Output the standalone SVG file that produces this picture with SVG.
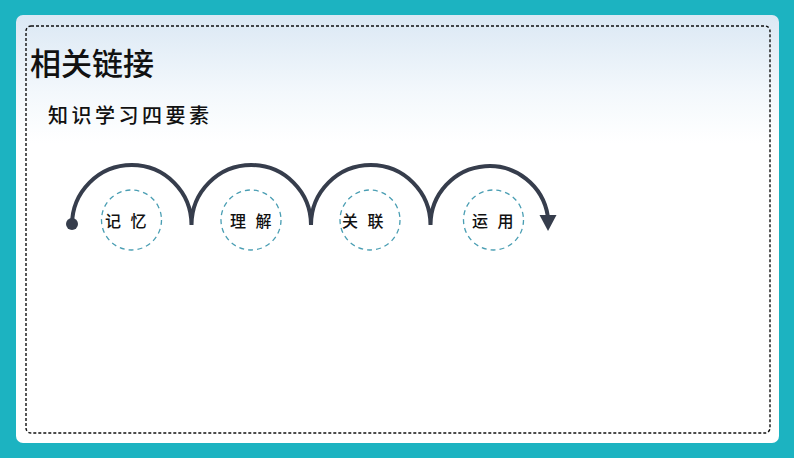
<svg xmlns="http://www.w3.org/2000/svg" width="794" height="458" viewBox="0 0 794 458">
  <defs>
    <linearGradient id="sky" x1="0" y1="0" x2="0" y2="1">
      <stop offset="0" stop-color="#dbe8f4"/>
      <stop offset="0.18" stop-color="#f3f8fc"/>
      <stop offset="0.3" stop-color="#ffffff"/>
      <stop offset="1" stop-color="#ffffff"/>
    </linearGradient>
    <style>
      .arc { fill: none; stroke: #363d4c; stroke-width: 4; stroke-linecap: round; }
      .ring { fill: none; stroke: #4a9eb3; stroke-width: 1.3; stroke-dasharray: 5 4; }
      .lbl { font-family: "Noto Sans CJK SC", "Noto Sans", sans-serif; font-size: 16px; font-weight: 500; fill: #111; letter-spacing: 3px; }
      .title { font-family: "Noto Sans CJK SC", "Noto Sans", sans-serif; font-size: 31px; font-weight: 500; fill: #111; }
      .sub { font-family: "Noto Sans CJK SC", "Noto Sans", sans-serif; font-size: 20px; font-weight: 500; fill: #111; letter-spacing: 3.5px; }
    </style>
  </defs>
  <rect x="0" y="0" width="794" height="458" fill="#1cb3c1"/>
  <rect x="16" y="15" width="763" height="428" rx="7" fill="url(#sky)"/>
  <rect x="26" y="26" width="744" height="407" rx="5" fill="none" stroke="#111" stroke-width="1.4" stroke-dasharray="3 2"/>
  <text class="title" x="30" y="75">相关链接</text>
  <text class="sub" x="48" y="123">知识学习四要素</text>
  <g id="connectors">
    <path class="arc" d="M72,225 A59.75,60 0 0 1 191.5,225 A59.75,60 0 0 1 311,225 A59.75,60 0 0 1 430.5,225 A59,59 0 0 1 547.8,216"/>
    <polygon points="539.5,215 556.5,215 548,231" fill="#363d4c"/>
    <circle cx="72" cy="224" r="6" fill="#363d4c"/>
  </g>
  <g id="node-memory">
    <circle class="ring" cx="131.5" cy="220" r="30"/>
    <text class="lbl" x="105" y="227">记 忆</text>
  </g>
  <g id="node-understand">
    <circle class="ring" cx="251" cy="220" r="30"/>
    <text class="lbl" x="230" y="227">理 解</text>
  </g>
  <g id="node-relate">
    <circle class="ring" cx="370" cy="220" r="30"/>
    <text class="lbl" x="342" y="227">关 联</text>
  </g>
  <g id="node-apply">
    <circle class="ring" cx="493.5" cy="220" r="30"/>
    <text class="lbl" x="472" y="227">运 用</text>
  </g>
</svg>
